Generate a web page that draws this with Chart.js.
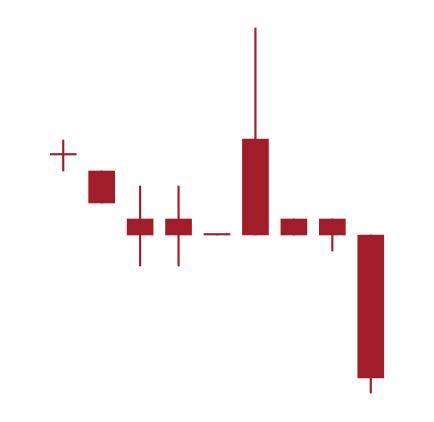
<!DOCTYPE html>
<html>
<head>
<meta charset="utf-8">
<script src="https://cdn.jsdelivr.net/npm/chart.js@4/dist/chart.umd.min.js"></script>
<style>
  html, body { margin: 0; padding: 0; background: #fff; }
  #wrap { width: 434px; height: 422px; }
</style>
</head>
<body>
<div id="wrap"><canvas id="chart"></canvas></div>
<script>
var labels = ['1', '2', '3', '4', '5', '6', '7', '8', '9'];
var openV  = [26.7, 25.1, 20.3, 20.3, 18.7, 18.7, 20.3, 20.3, 18.7];
var closeV = [26.7, 21.9, 18.7, 18.7, 18.7, 28.3, 18.7, 18.7, 4.4];
var highV  = [28.2, 25.1, 23.6, 23.6, 18.7, 39.4, 20.3, 20.3, 18.7];
var lowV   = [25.1, 21.9, 15.6, 15.6, 18.7, 18.7, 18.7, 17.1, 2.9];

var red = '#a11d2a';

var bodies = labels.map(function (l, i) { return [openV[i], closeV[i]]; });
var wicks = labels.map(function (l, i) { return [lowV[i], highV[i]]; });

var ctx = document.getElementById('chart');
new Chart(ctx, {
    type: 'bar',
    data: {
        labels: labels,
        datasets: [{
            label: 'body',
            data: bodies,
            backgroundColor: red,
            barThickness: 26,
            minBarLength: 1.5,
            grouped: false
        }, {
            label: 'wick',
            data: wicks,
            backgroundColor: red,
            barThickness: 1.5,
            grouped: false
        }]
    },
    options: {
        responsive: true,
        maintainAspectRatio: false,
        animation: false,
        layout: { padding: { left: 44, right: 44, top: 0, bottom: 0 } },
        plugins: { legend: { display: false }, tooltip: { enabled: false } },
        scales: {
            x: { display: false, offset: true },
            y: { display: false, min: 0, max: 42.2 }
        }
    }
});
</script>
</body>
</html>
